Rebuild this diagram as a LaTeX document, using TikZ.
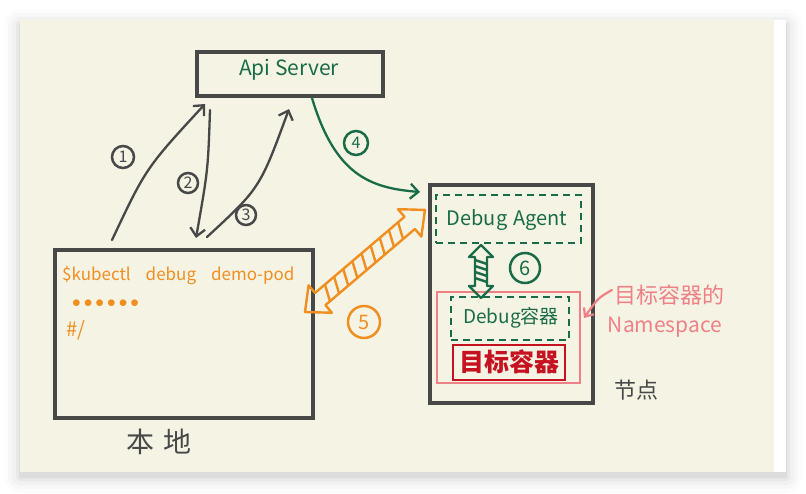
\documentclass[tikz,border=0pt]{standalone}
\usepackage{fontspec}
\setmainfont{Noto Sans CJK SC}
\usetikzlibrary{arrows.meta,calc}
\definecolor{cream}{RGB}{245,243,228}
\definecolor{ink}{RGB}{72,72,72}
\definecolor{dgreen}{RGB}{26,108,72}
\definecolor{orng}{RGB}{240,142,32}
\definecolor{pinkc}{RGB}{238,128,134}
\definecolor{redc}{RGB}{198,18,32}
\tikzset{
  box/.style={draw=ink, line width=3.2pt, inner sep=0pt},
  dashbox/.style={draw=dgreen, line width=2pt, dash pattern=on 7pt off 5pt, inner sep=0pt},
  circnum/.style={circle, draw, line width=2.5pt, inner sep=1.2pt, minimum size=22pt, font=\fontsize{16}{16}\selectfont},
  inkarrow/.style={ink, line width=2.3pt, line cap=round, -{Straight Barb[length=8pt,width=15pt]}},
  txt/.style={inner sep=0pt, anchor=west}
}
\begin{document}
\begin{tikzpicture}[x=1pt,y=-1pt]
\useasboundingbox (0,0) rectangle (806,493);
\fill[white] (0,0) rectangle (806,493);
% card shadow
\foreach \d/\o in {16/0.012,12/0.018,8/0.025,4/0.035,1/0.05}
  \fill[black,opacity=\o,rounded corners=\d] (20-\d,20-\d+5) rectangle (786+\d,472+\d+5);
\fill[white] (20,20) rectangle (786,472);
\fill[cream] (20,20) rectangle (774,472);

% boxes
\node[box, minimum width=186pt, minimum height=44pt] (api) at (290,74) {};
\node[dgreen, font=\fontsize{21}{21}\selectfont] (apit) at (289,70) {Api Server};

\node[box, minimum width=258pt, minimum height=168pt] (local) at (184,334) {};
\node[txt, orng, font=\fontsize{17}{17}\selectfont] (cmd) at (62,276) {\$kubectl\hspace{15pt}debug\hspace{15pt}demo-pod};
\node[txt, orng, font=\fontsize{17}{17}\selectfont] (dots) at (72,304) {${\bullet}\hspace{3pt}{\bullet}\hspace{3pt}{\bullet}\hspace{3pt}{\bullet}\hspace{3pt}{\bullet}\hspace{3pt}{\bullet}$};
\node[txt, orng, font=\fontsize{20}{20}\selectfont] (prompt) at (66,330) {\#/};
\node[ink, font=\fontsize{28}{28}\selectfont] (localt) at (159,442) {本\hspace{10pt}地};

\node[box, minimum width=163pt, minimum height=218pt] (nodebox) at (511.5,294) {};
\node[ink, font=\fontsize{22}{22}\selectfont] (nodet) at (636,390) {节点};

\node[dashbox, minimum width=145pt, minimum height=48pt] (agent) at (508.5,219) {};
\node[dgreen, font=\fontsize{20}{20}\selectfont] (agentt) at (507,220) {Debug\hspace{6pt}Agent};

\node[draw=pinkc, line width=2.6pt, minimum width=143pt, minimum height=91pt, inner sep=0pt] (ns) at (508.5,337.5) {};
\node[dashbox, minimum width=118pt, minimum height=43pt] (dbg) at (510,318.5) {};
\node[dgreen, font=\fontsize{19}{19}\selectfont] (dbgt) at (511,318) {Debug容器};
\node[draw=redc, line width=2.8pt, minimum width=112pt, minimum height=35pt, inner sep=0pt] (target) at (509,362.5) {};
\node[redc, font=\fontsize{25}{25}\bfseries\selectfont] (targett) at (509,362) {目标容器};

\node[pinkc, font=\fontsize{22}{22}\selectfont] (nslab1) at (669,295) {目标容器的};
\node[pinkc, font=\fontsize{21}{21}\selectfont] (nslab2) at (665,327) {Namespace};
\coordinate (nsfrom) at (612,290);
\coordinate (nsto) at (584,318);
\draw[pinkc, line width=2.2pt, line cap=round, -{Straight Barb[length=7pt,width=12pt]}] (nsfrom) .. controls (598,298) .. (nsto);

% arrows between local and api
\coordinate (a1s) at (112,240); \coordinate (a1e) at (205,104);
\coordinate (a2s) at (210,110); \coordinate (a2e) at (196,238);
\coordinate (a3s) at (207,237); \coordinate (a3e) at (289,109);
\draw[inkarrow] (a1s) .. controls (146,168) .. (a1e);
\draw[inkarrow] (a2s) .. controls (208,170) .. (a2e);
\draw[inkarrow] (a3s) .. controls (260,188) .. (a3e);
\node[circnum, ink] (c1) at (123,157) {1};
\node[circnum, ink, minimum size=20pt] (c2) at (188,183) {2};
\node[circnum, ink, minimum size=20pt] (c3) at (246,215) {3};

% arrow 4
\coordinate (a4s) at (312,98); \coordinate (a4e) at (420,192);
\draw[dgreen, line width=2.3pt, line cap=round, -{Straight Barb[length=8pt,width=15pt]}] (a4s) .. controls (335,175) and (370,188) .. (a4e);
\node[circnum, dgreen, minimum size=24pt] (c4) at (356,143) {4};

% arrow 5 (hatched double arrow)
\coordinate (a5s) at (305,312); \coordinate (a5e) at (425,210);
\begin{scope}[shift={(a5s)}, rotate=40.4, orng, line width=2.4pt, line join=round]
  \draw (0,0) -- (20,18) -- (20,8) -- (137.5,8) -- (137.5,18) -- (157.5,0) -- (137.5,-18) -- (137.5,-8) -- (20,-8) -- (20,-18) -- cycle;
  \foreach \x in {26,38,...,126} \draw (\x,8) -- (\x+7,-8);
\end{scope}
\node[circnum, orng, minimum size=32pt, font=\fontsize{20}{20}\selectfont] (c5) at (364,322) {5};

% arrow 6 (hatched double arrow)
\coordinate (a6s) at (481,245); \coordinate (a6e) at (481,298);
\begin{scope}[shift={(a6s)}, rotate=-90, dgreen, line width=2.4pt, line join=round]
  \draw (0,0) -- (12,12) -- (12,6) -- (41,6) -- (41,12) -- (53,0) -- (41,-12) -- (41,-6) -- (12,-6) -- (12,-12) -- cycle;
  \foreach \x in {15,21,...,35} \draw (\x,6) -- (\x+4,-6);
\end{scope}
\node[circnum, dgreen, minimum size=30pt, font=\fontsize{20}{20}\selectfont] (c6) at (525,268) {6};
\end{tikzpicture}
\end{document}
